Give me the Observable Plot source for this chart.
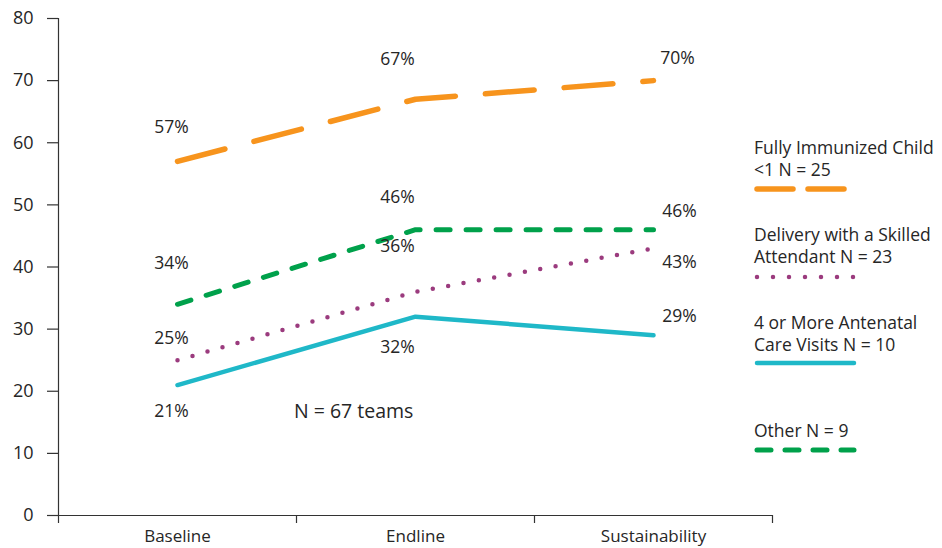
<!DOCTYPE html>
<html>
<head>
<meta charset="utf-8">
<script src="https://cdn.jsdelivr.net/npm/d3@7"></script>
<script src="https://cdn.jsdelivr.net/npm/@observablehq/plot@0.6"></script>
<style>
  html, body { margin: 0; padding: 0; background: #fff; }
  #chart { position: relative; width: 942px; height: 548px; font-family: "Open Sans", sans-serif; color: #262626; }
  .legend-item { position: absolute; left: 754px; font-size: 17.5px; line-height: 22px; white-space: nowrap; }
  .legend-item svg { position: absolute; left: 0; overflow: visible; }
</style>
</head>
<body>
<div id="chart"></div>
<script>
// Study stages along the x axis
const stages = ["Baseline", "Endline", "Sustainability"];

// Percent of teams per indicator at each stage
const immunized = [57, 67, 70];
const skilledDelivery = [25, 36, 43];
const antenatal = [21, 32, 29];
const other = [34, 46, 46];

// Series names as shown in the legend
const seriesNames = [
  "Fully Immunized Child <1 N = 25",
  "Delivery with a Skilled Attendant N = 23",
  "4 or More Antenatal Care Visits N = 10",
  "Other N = 9"
];
const yTicks = [0, 10, 20, 30, 40, 50, 60, 70, 80];
const note = "N = 67 teams";

// Line styles per series
const styles = [
  {values: immunized, color: "#F7941D", width: 5.5, dash: "49 30", legendDash: "36 15"},
  {values: skilledDelivery, color: "#9B3B7E", width: 4.5, dash: "0 15.6", legendDash: "0 16"},
  {values: antenatal, color: "#1FB8C8", width: 4.5, dash: null, legendDash: null},
  {values: other, color: "#00A14B", width: 5, dash: "14 16", legendDash: "14 14"}
];

// Offsets of each value label from its point: [stage][series] -> [dx, dy]
const labelOffsets = [
  [[-6, -34], [-6, -22], [-6, 26], [-6, -41]],
  [[-18, -40], [-18, -45], [-18, 31], [-18, -32]],
  [[24, -22], [26, 14], [26, -19], [26, -18]]
];

const rows = styles.flatMap((s, k) =>
  s.values.map((v, i) => ({series: k, stage: i, x: i + 0.5, y: v}))
);

const marks = [
  // Axis lines
  Plot.ruleY([0], {stroke: "#333", strokeWidth: 1.2}),
  Plot.ruleX([0], {stroke: "#333", strokeWidth: 1.2}),
  // Y axis ticks and labels
  Plot.axisY({
    ticks: yTicks, tickSize: 11, tickPadding: 14, label: null,
    fontSize: 18, stroke: "#333", strokeWidth: 1.2, color: "#262626"
  }),
  // Category separators on the x axis
  Plot.axisX({ticks: [0, 1, 2, 3], tickSize: 8, tickFormat: () => "", label: null, stroke: "#333", strokeWidth: 1.2}),
  // Category names centred in each band
  Plot.axisX({
    ticks: [0.5, 1.5, 2.5], tickSize: 0, tickPadding: 14, label: null,
    tickFormat: (d) => stages[Math.round(d - 0.5)], fontSize: 17
  })
];

styles.forEach((s, k) => {
  marks.push(Plot.line(rows.filter((r) => r.series === k), {
    x: "x", y: "y", stroke: s.color, strokeWidth: s.width,
    strokeDasharray: s.dash || undefined,
    strokeLinecap: "round", strokeLinejoin: "round"
  }));
});

rows.forEach((r) => {
  const [dx, dy] = labelOffsets[r.stage][r.series];
  marks.push(Plot.text([r], {
    x: "x", y: "y", text: (d) => `${d.y}%`, dx, dy,
    fontSize: 17.5, fill: "#262626"
  }));
});

marks.push(Plot.text([note], {x: 1.24, y: 16.7, text: (d) => d, fontSize: 19.5, fill: "#262626"}));

const chart = Plot.plot({
  width: 942,
  height: 548,
  marginLeft: 58,
  marginRight: 170,
  marginTop: 18,
  marginBottom: 33,
  style: {fontFamily: "'Open Sans', sans-serif", color: "#262626", background: "#fff"},
  x: {type: "linear", domain: [0, 3], axis: null},
  y: {domain: [0, 80], axis: null},
  marks
});

const root = document.getElementById("chart");
root.appendChild(chart);

// Legend in the right margin
const legendLayout = [
  {text: ["Fully Immunized Child", "<1 N = 25"], top: 136, swatchY: 53, len: 92},
  {text: ["Delivery with a Skilled", "Attendant N = 23"], top: 223, swatchY: 54, len: 100},
  {text: ["4 or More Antenatal", "Care Visits N = 10"], top: 311, swatchY: 52, len: 100},
  {text: ["Other N = 9"], top: 419, swatchY: 31, len: 100}
];
legendLayout.forEach((L, k) => {
  const s = styles[k];
  const div = document.createElement("div");
  div.className = "legend-item";
  div.style.top = L.top + "px";
  div.innerHTML = L.text.map((t) => t.replace(/</g, "&lt;")).join("<br>");
  div.setAttribute("title", seriesNames[k]);
  const ns = "http://www.w3.org/2000/svg";
  const svg = document.createElementNS(ns, "svg");
  svg.setAttribute("width", L.len + 6);
  svg.setAttribute("height", 10);
  svg.style.top = (L.swatchY - 5) + "px";
  const line = document.createElementNS(ns, "line");
  line.setAttribute("x1", 3);
  line.setAttribute("x2", L.len);
  line.setAttribute("y1", 5);
  line.setAttribute("y2", 5);
  line.setAttribute("stroke", s.color);
  line.setAttribute("stroke-width", s.width);
  line.setAttribute("stroke-linecap", "round");
  if (s.legendDash) line.setAttribute("stroke-dasharray", s.legendDash);
  svg.appendChild(line);
  div.appendChild(svg);
  root.appendChild(div);
});
</script>
</body>
</html>
